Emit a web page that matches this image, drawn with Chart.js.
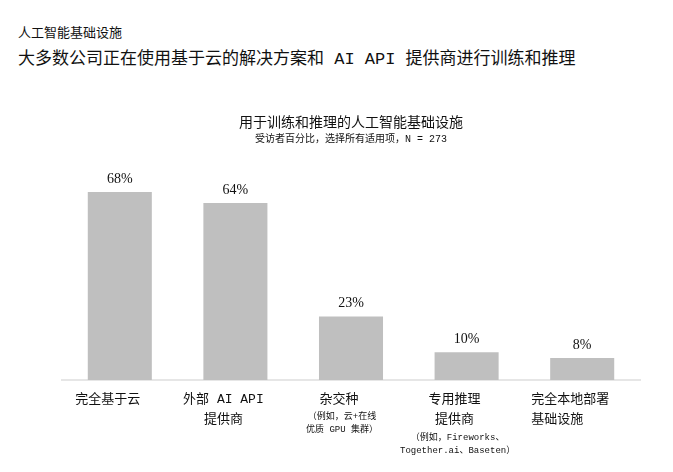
<!DOCTYPE html>
<html>
<head>
<meta charset="utf-8">
<script src="https://cdn.jsdelivr.net/npm/chart.js@4"></script>
<style>
  body { margin: 0; background: #fff; width: 673px; height: 472px; overflow: hidden; position: relative; }
  .cjk { font-family: "Liberation Mono", "Noto Sans CJK SC", sans-serif; color: #111; position: absolute; left: 18px; white-space: nowrap; }
  #kicker { top: 26px; font-size: 13px; line-height: 16px; }
  #headline { top: 50px; font-size: 17px; line-height: 20px; }
  #wrap { position: absolute; left: 0; top: 80px; width: 673px; height: 392px; }
</style>
</head>
<body>
<div id="kicker" class="cjk">人工智能基础设施</div>
<div id="headline" class="cjk">大多数公司正在使用基于云的解决方案和 AI API 提供商进行训练和推理</div>
<div id="wrap"><canvas id="chart"></canvas></div>
<script>
/* --- DATA --- */
const categories = [
    ['完全基于云'],
    ['外部 AI API', '提供商'],
    ['杂交种'],
    ['专用推理', '提供商'],
    ['完全本地部署', '基础设施　　']
];
const notes = [
    [],
    [],
    ['（例如，云+在线', '优质 GPU 集群）'],
    ['（例如，Fireworks、', 'Together.ai、Baseten）'],
    []
];
const shares = [68, 64, 23, 10, 8];

/* --- CONFIGURATION --- */
const cjkFont = '"Liberation Mono", "Noto Sans CJK SC", sans-serif';
const barColor = '#bfbfbf';
const textColor = '#111';

// percentage labels above bars + small notes under the category names
const labelPlugin = {
    id: 'labels',
    afterDatasetsDraw(chart) {
        const ctx = chart.ctx;
        const meta = chart.getDatasetMeta(0);
        const xScale = chart.scales.x;
        ctx.save();
        ctx.fillStyle = textColor;
        ctx.textAlign = 'center';
        ctx.textBaseline = 'middle';
        ctx.font = '14px "Liberation Serif", serif';
        meta.data.forEach((bar, i) => {
            ctx.fillText(shares[i] + '%', bar.x, bar.y - 13);
        });
        ctx.font = '9px ' + cjkFont;
        notes.forEach((lines, i) => {
            const x = xScale.getPixelForValue(i) - 9;
            const top = chart.chartArea.bottom + 16 + categories[i].length * 21;
            lines.forEach((line, j) => {
                ctx.fillText(line, x, top + j * 13);
            });
        });
        ctx.restore();
    }
};

new Chart(document.getElementById('chart'), {
    type: 'bar',
    data: {
        labels: categories,
        datasets: [{
            data: shares,
            backgroundColor: barColor,
            borderWidth: 0,
            barPercentage: 0.554,
            categoryPercentage: 1
        }]
    },
    options: {
        responsive: true,
        maintainAspectRatio: false,
        animation: false,
        layout: { padding: { left: 62, right: 33, top: 0, bottom: 0 } },
        plugins: {
            legend: { display: false },
            tooltip: { enabled: false },
            title: {
                display: true,
                text: '用于训练和推理的人工智能基础设施',
                color: textColor,
                font: { family: cjkFont, size: 14, weight: 'normal', lineHeight: 1.2 },
                padding: { top: 35, bottom: 0 }
            },
            subtitle: {
                display: true,
                text: '受访者百分比，选择所有适用项，N = 273',
                color: textColor,
                font: { family: cjkFont, size: 10, lineHeight: 1.2 },
                padding: { top: 2, bottom: 13 }
            }
        },
        scales: {
            x: {
                grid: { display: false, drawTicks: false },
                border: { display: true, color: '#e6e6e6', width: 2 },
                ticks: {
                    color: textColor,
                    font: { family: cjkFont, size: 13, lineHeight: 1.54 },
                    padding: 10,
                    labelOffset: -12,
                    maxRotation: 0,
                    autoSkip: false
                },
                afterFit(scale) { scale.height = 92; }
            },
            y: {
                display: false,
                min: 0,
                max: 80
            }
        }
    },
    plugins: [labelPlugin]
});
</script>
</body>
</html>
